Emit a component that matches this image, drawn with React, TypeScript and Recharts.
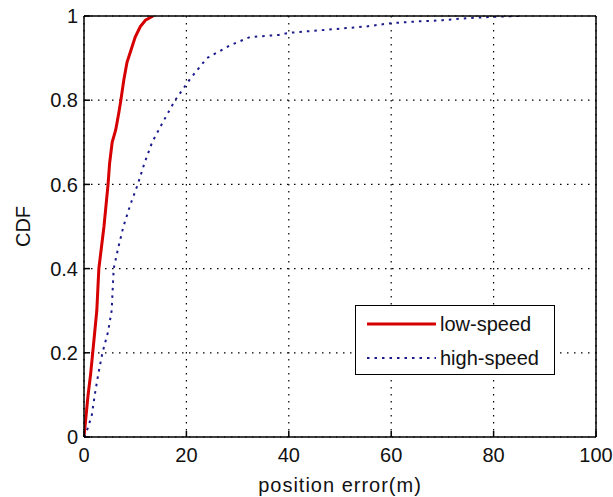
import { LineChart, Line, XAxis, YAxis, CartesianGrid, Legend } from 'recharts';

// position error (m) and CDF for each series
const lowSpeedErr = [0, 0.4, 0.8, 1.3, 1.7, 2.1, 2.5, 2.7, 2.9, 3.4, 3.9, 4.3, 4.7, 5.0, 5.5, 6.2, 6.8, 7.2, 7.8, 8.4, 9.2, 10, 11, 12, 13.5];
const lowSpeedCdf = [0, 0.05, 0.1, 0.15, 0.2, 0.25, 0.3, 0.35, 0.4, 0.45, 0.5, 0.55, 0.6, 0.65, 0.7, 0.73, 0.77, 0.8, 0.85, 0.89, 0.92, 0.95, 0.975, 0.99, 1];

const highSpeedErr = [0, 0.7, 1.5, 2.1, 2.8, 3.6, 4.7, 5.4, 5.6, 5.8, 6.7, 7.7, 9.0, 10.5, 11.8, 13.3, 15.5, 17.8, 20.7, 24, 28.5, 32.4, 38, 40, 45, 50, 55, 60, 65, 70, 75, 80, 85];
const highSpeedCdf = [0, 0.02, 0.05, 0.1, 0.15, 0.2, 0.25, 0.3, 0.35, 0.4, 0.45, 0.5, 0.55, 0.6, 0.65, 0.7, 0.75, 0.8, 0.85, 0.9, 0.93, 0.95, 0.955, 0.96, 0.965, 0.97, 0.975, 0.983, 0.987, 0.99, 0.995, 0.998, 1];

const seriesNames = ['low-speed', 'high-speed'];
const xTicks = [0, 20, 40, 60, 80, 100];
const yTicks = [0, 0.2, 0.4, 0.6, 0.8, 1];

const lowSpeed = lowSpeedErr.map((x, i) => ({ x, y: lowSpeedCdf[i] }));
const highSpeed = highSpeedErr.map((x, i) => ({ x, y: highSpeedCdf[i] }));

const font = '"Liberation Sans", Arial, sans-serif';
const tickStyle = { fill: '#111', fontSize: 20, fontFamily: font };
const frame = { stroke: '#000', strokeWidth: 1.5 };

function LegendBox(props: any) {
  // keep the plotting order, not the alphabetical one
  const items = [...(props.payload || [])].sort(
    (a: any, b: any) => seriesNames.indexOf(a.value) - seriesNames.indexOf(b.value)
  );
  return (
    <div style={{ width: 198, height: 68, border: '1.5px solid #000', background: '#fff', fontFamily: font, fontSize: 20, color: '#111' }}>
      {items.map((entry: any, i: number) => (
        <div key={i} style={{ display: 'flex', alignItems: 'center', height: 34, marginTop: i === 0 ? 1 : 0 }}>
          <svg width={82} height={20} style={{ flex: 'none' }}>
            <line
              x1={11}
              x2={80}
              y1={10}
              y2={10}
              stroke={entry.color}
              strokeWidth={entry.payload?.strokeWidth}
              strokeDasharray={entry.payload?.strokeDasharray}
            />
          </svg>
          <span style={{ marginLeft: 2 }}>{entry.value}</span>
        </div>
      ))}
    </div>
  );
}

export default function App() {
  return (
    <div style={{ position: 'absolute', left: 0, top: 0, background: '#fff' }}>
      <LineChart width={613} height={497} margin={{ top: 15, right: 16, bottom: 0, left: 0 }}>
        <CartesianGrid stroke="#000" strokeDasharray="1.5 5.5" strokeWidth={1.2} horizontalValues={yTicks} verticalValues={xTicks} />
        <XAxis
          dataKey="x"
          type="number"
          domain={[0, 100]}
          ticks={xTicks}
          allowDataOverflow
          height={60}
          axisLine={frame}
          tickLine={frame}
          tickSize={-6}
          tickMargin={17}
          tick={tickStyle}
          label={{ value: 'position error(m)', position: 'center', dy: 18, style: { ...tickStyle, letterSpacing: 1 } }}
        />
        <XAxis
          xAxisId="top"
          orientation="top"
          type="number"
          domain={[0, 100]}
          ticks={xTicks}
          allowDataOverflow
          height={1}
          axisLine={frame}
          tickLine={frame}
          tickSize={-6}
          tick={false}
        />
        <YAxis
          type="number"
          domain={[0, 1]}
          ticks={yTicks}
          allowDataOverflow
          width={84}
          axisLine={frame}
          tickLine={frame}
          tickSize={-6}
          tickMargin={12}
          tick={tickStyle}
          label={{ value: 'CDF', angle: -90, position: 'center', dx: -19, style: tickStyle }}
        />
        <YAxis
          yAxisId="right"
          orientation="right"
          type="number"
          domain={[0, 1]}
          ticks={yTicks}
          allowDataOverflow
          width={1}
          axisLine={frame}
          tickLine={frame}
          tickSize={-6}
          tick={false}
        />
        <Legend
          verticalAlign="middle"
          align="center"
          content={LegendBox}
          wrapperStyle={{ position: 'absolute', left: 355, top: 305, width: 'auto' }}
        />
        <Line
          data={lowSpeed}
          dataKey="y"
          name={seriesNames[0]}
          type="linear"
          stroke="#d60000"
          strokeWidth={3}
          dot={false}
          isAnimationActive={false}
        />
        <Line
          data={highSpeed}
          dataKey="y"
          name={seriesNames[1]}
          type="linear"
          stroke="#1a1a8c"
          strokeWidth={2}
          strokeDasharray="2.5 5"
          dot={false}
          isAnimationActive={false}
        />
      </LineChart>
    </div>
  );
}
